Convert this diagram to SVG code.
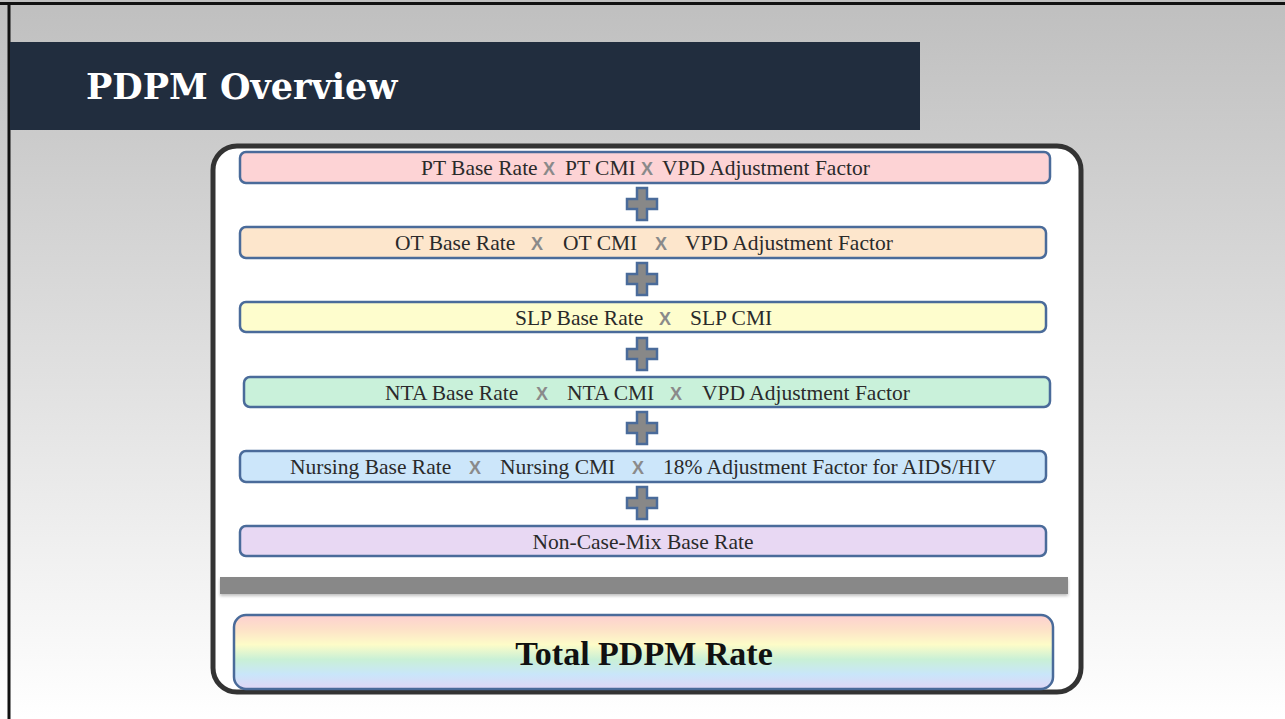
<svg xmlns="http://www.w3.org/2000/svg" width="1285" height="719" viewBox="0 0 1285 719">
<defs>
<linearGradient id="bg" x1="0" y1="0" x2="0" y2="1">
<stop offset="0" stop-color="#bfbfbf"/>
<stop offset="1" stop-color="#ffffff"/>
</linearGradient>
<linearGradient id="rainbow" x1="0" y1="0" x2="0" y2="1">
<stop offset="0" stop-color="#fdd0d0"/>
<stop offset="0.2" stop-color="#fde2c8"/>
<stop offset="0.4" stop-color="#fdfcc8"/>
<stop offset="0.6" stop-color="#c9f0d6"/>
<stop offset="0.8" stop-color="#c9e6fa"/>
<stop offset="1" stop-color="#e0d6f5"/>
</linearGradient>
<filter id="sh" x="-5%" y="-50%" width="110%" height="200%">
<feDropShadow dx="0" dy="2" stdDeviation="1.5" flood-color="#000" flood-opacity="0.25"/>
</filter>
<path id="plus" d="M-5,-16 H5 V-5 H15 V5 H5 V16 H-5 V5 H-15 V-5 H-5 Z"/>
</defs>
<style>
.row{stroke:#4a6b9a;stroke-width:2.5}
.t{font-family:"Liberation Serif","Times New Roman",serif;font-size:21.5px;fill:#2a2a2a}
.x{font-family:"Liberation Sans",Arial,sans-serif;font-weight:bold;font-size:18px;fill:#8a8a8a}
.plus{fill:#888888;stroke:#4a6b9a;stroke-width:2.5}
</style>
<rect x="0" y="0" width="1285" height="719" fill="url(#bg)"/>
<line x1="0" y1="3.5" x2="1285" y2="3.5" stroke="#111" stroke-width="3"/>
<line x1="9" y1="3" x2="9" y2="719" stroke="#111" stroke-width="3"/>
<g id="title">
<rect x="10" y="42" width="910" height="88" fill="#212d3e"/>
<text x="86" y="99" font-family="'DejaVu Serif',serif" font-weight="bold" font-size="35" fill="#ffffff">PDPM Overview</text>
</g>
<g id="frame">
<rect x="213" y="146" width="868" height="546" rx="24" fill="#ffffff" stroke="#333333" stroke-width="5"/>
</g>
<g id="pt">
<rect class="row" x="240" y="152" width="810" height="31" rx="6" fill="#fdd3d5"/>
<text class="t" y="175"><tspan x="421">PT Base Rate</tspan><tspan class="x" x="543">X</tspan><tspan x="565">PT CMI</tspan><tspan class="x" x="641">X</tspan><tspan x="662">VPD Adjustment Factor</tspan></text>
</g>
<g id="ot">
<rect class="row" x="240" y="227" width="806" height="31" rx="6" fill="#fde6cc"/>
<text class="t" y="250"><tspan x="395">OT Base Rate</tspan><tspan class="x" x="531">X</tspan><tspan x="563">OT CMI</tspan><tspan class="x" x="655">X</tspan><tspan x="685">VPD Adjustment Factor</tspan></text>
</g>
<g id="slp">
<rect class="row" x="240" y="302" width="806" height="30" rx="6" fill="#fefdcd"/>
<text class="t" y="325"><tspan x="515">SLP Base Rate</tspan><tspan class="x" x="659">X</tspan><tspan x="690">SLP CMI</tspan></text>
</g>
<g id="nta">
<rect class="row" x="244" y="377" width="806" height="30" rx="6" fill="#c9f1da"/>
<text class="t" y="400"><tspan x="385">NTA Base Rate</tspan><tspan class="x" x="536">X</tspan><tspan x="567">NTA CMI</tspan><tspan class="x" x="670">X</tspan><tspan x="702">VPD Adjustment Factor</tspan></text>
</g>
<g id="nursing">
<rect class="row" x="240" y="451" width="806" height="31" rx="6" fill="#cce6fa"/>
<text class="t" y="474"><tspan x="290">Nursing Base Rate</tspan><tspan class="x" x="469">X</tspan><tspan x="500">Nursing CMI</tspan><tspan class="x" x="632">X</tspan><tspan x="663">18% Adjustment Factor for AIDS/HIV</tspan></text>
</g>
<g id="noncasemix">
<rect class="row" x="240" y="526" width="806" height="30" rx="6" fill="#e8d8f3"/>
<text class="t" x="643" y="549" text-anchor="middle">Non-Case-Mix Base Rate</text>
</g>
<g id="connectors">
<use href="#plus" class="plus" x="642" y="204"/>
<use href="#plus" class="plus" x="642" y="279"/>
<use href="#plus" class="plus" x="642" y="354"/>
<use href="#plus" class="plus" x="642" y="428"/>
<use href="#plus" class="plus" x="642" y="503"/>
<rect x="220" y="577" width="848" height="17" fill="#888888" filter="url(#sh)"/>
</g>
<g id="total">
<rect x="234" y="615" width="819" height="74" rx="12" fill="url(#rainbow)" stroke="#4a6b9a" stroke-width="2.5"/>
<text x="644" y="665" text-anchor="middle" font-family="'Liberation Serif','Times New Roman',serif" font-weight="bold" font-size="34" fill="#111">Total PDPM Rate</text>
</g>
</svg>
